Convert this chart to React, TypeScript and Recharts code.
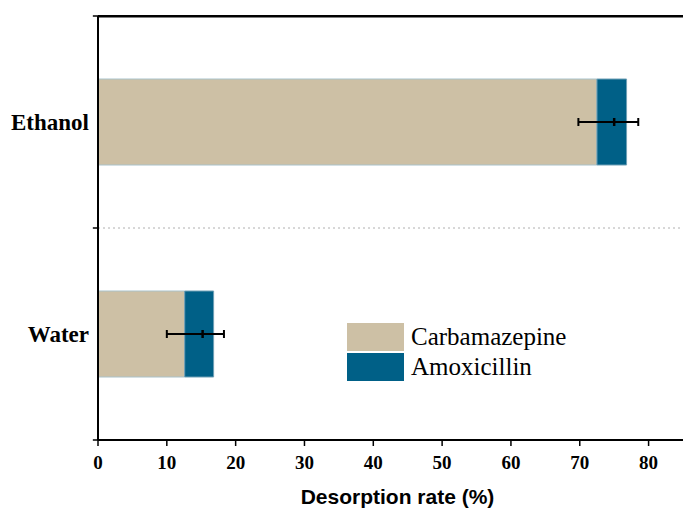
import React from 'react';
import { ComposedChart, Bar, XAxis, YAxis, Scatter, ErrorBar, ReferenceLine, Legend, CartesianGrid } from 'recharts';

const categories = ['Ethanol', 'Water'];
const carbamazepine = [72.5, 12.6];
const amoxicillin = [4.3, 4.2];
const errorCenter = [75.0, 15.2];
const errorLow = [5.2, 5.2];
const errorHigh = [3.5, 3.1];
const xTicks = [0, 10, 20, 30, 40, 50, 60, 70, 80];
const xDomain = [0, 85];
const seriesNames = ['Carbamazepine', 'Amoxicillin'];
const colors = ['#CDC0A5', '#006087'];

const data = categories.map((name, i) => ({
  name,
  carb: carbamazepine[i],
  amox: amoxicillin[i],
  center: errorCenter[i],
  err: [errorLow[i], errorHigh[i]],
}));

const serif = '"Liberation Serif", "Times New Roman", serif';

// band boundaries expressed as category + band side
const boundaries: { cat: string; pos: 'start' | 'end' }[] = [
  { cat: categories[0], pos: 'start' },
  { cat: categories[1], pos: 'start' },
  { cat: categories[1], pos: 'end' },
];

const CenterMark = (props: any) => {
  const { cx, cy } = props;
  return <line x1={cx} x2={cx} y1={cy - 4} y2={cy + 4} stroke="#000" strokeWidth={2.5} />;
};

const LegendContent = () => (
  <div style={{ fontFamily: serif, fontSize: 25, color: '#000' }}>
    {seriesNames.map((n, i) => (
      <div key={n} style={{ display: 'flex', alignItems: 'center', height: 28, marginBottom: 2 }}>
        <div style={{ width: 57, height: 28, background: colors[i], marginRight: 7 }} />
        <span style={{ lineHeight: '28px' }}>{n}</span>
      </div>
    ))}
  </div>
);

export default function App() {
  return (
    <div style={{ position: 'absolute', left: 0, top: 0, width: 683, height: 508, background: '#fff' }}>
      <ComposedChart
        width={683}
        height={508}
        data={data}
        layout="vertical"
        margin={{ top: 0, right: 0, bottom: 0, left: 0 }}
      >
        <CartesianGrid
          yAxisId="cat"
          vertical={false}
          horizontal={true}
          horizontalCoordinatesGenerator={(p: any) => [p.offset.top + 0.5]}
          stroke="#000"
          strokeWidth={2}
        />
        <XAxis
          type="number"
          domain={xDomain}
          ticks={xTicks}
          height={68}
          tickSize={6}
          tickMargin={10}
          axisLine={{ stroke: '#000', strokeWidth: 2 }}
          tickLine={{ stroke: '#000', strokeWidth: 1.5 }}
          tick={{ fill: '#000', fontSize: 19, fontWeight: 'bold', fontFamily: serif }}
          label={{
            value: 'Desorption rate (%)',
            position: 'insideBottom',
            offset: 4,
            dx: 7,
            fill: '#000',
            fontSize: 21,
            fontWeight: 'bold',
            fontFamily: '"Liberation Sans", Arial, sans-serif',
          }}
        />
        <XAxis
          xAxisId="top"
          orientation="top"
          type="number"
          domain={xDomain}
          height={16}
          tick={false}
          tickLine={false}
          axisLine={{ stroke: '#000', strokeWidth: 2 }}
        />
        <YAxis
          yAxisId="cat"
          type="category"
          dataKey="name"
          width={98}
          axisLine={{ stroke: '#000', strokeWidth: 2 }}
          tickLine={false}
          tickSize={6}
          tickMargin={3}
          tick={{ fill: '#000', fontSize: 23, fontWeight: 'bold', fontFamily: serif }}
        />
        <ReferenceLine
          yAxisId="cat"
          y={categories[1]}
          position="start"
          stroke="#b0b0b0"
          strokeDasharray="2 3"
        />
        <ReferenceLine
          yAxisId="cat"
          position="start"
          ifOverflow="visible"
          segment={[{ x: -0.01, y: categories[0] }, { x: xDomain[1], y: categories[0] }]}
          stroke="#000"
          strokeWidth={2}
        />
        {boundaries.map((b, i) => (
          <ReferenceLine
            key={i}
            yAxisId="cat"
            position={b.pos}
            ifOverflow="visible"
            segment={[{ x: -0.75, y: b.cat }, { x: 0, y: b.cat }]}
            stroke="#000"
            strokeWidth={1.5}
          />
        ))}
        <Bar
          yAxisId="cat"
          dataKey="carb"
          name={seriesNames[0]}
          stackId="s"
          fill={colors[0]}
          stroke="#a9c2ca"
          strokeWidth={1}
          barSize={86}
          isAnimationActive={false}
        />
        <Bar
          yAxisId="cat"
          dataKey="amox"
          name={seriesNames[1]}
          stackId="s"
          fill={colors[1]}
          stroke="#6f9fb5"
          strokeWidth={1}
          barSize={86}
          isAnimationActive={false}
        />
        <Scatter
          yAxisId="cat"
          dataKey="center"
          fill="#000"
          shape={CenterMark}
          isAnimationActive={false}
          legendType="none"
        >
          <ErrorBar dataKey="err" direction="x" width={4} strokeWidth={2} stroke="#000" />
        </Scatter>
        <Legend
          layout="vertical"
          align="center"
          verticalAlign="middle"
          wrapperStyle={{ left: 347, top: 323, width: 'auto', height: 'auto' }}
          content={LegendContent}
        />
      </ComposedChart>
    </div>
  );
}
